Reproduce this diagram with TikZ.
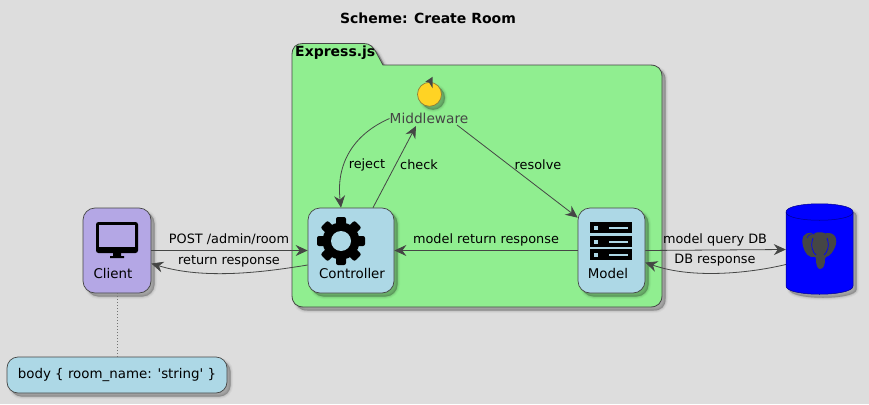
\documentclass[tikz,border=0pt]{standalone}
\usepackage{fontspec}
\setmainfont{DejaVu Sans}
\newfontfamily\plainfont{DejaVu Sans}
\usetikzlibrary{arrows.meta,calc}
\definecolor{bgc}{HTML}{DDDDDD}
\definecolor{linec}{HTML}{454645}
\definecolor{pkgc}{HTML}{90EE90}
\definecolor{lblue}{HTML}{ADD8E6}
\definecolor{purp}{HTML}{B4A7E5}
\definecolor{yelc}{HTML}{FFD324}
\tikzset{
  softshadow/.style={
    preaction={draw=black,fill=black,opacity=.03,line width=5pt,transform canvas={xshift=3.5pt,yshift=-3.5pt}},
    preaction={draw=black,fill=black,opacity=.05,line width=3pt,transform canvas={xshift=3.5pt,yshift=-3.5pt}},
    preaction={draw=black,fill=black,opacity=.07,line width=1.2pt,transform canvas={xshift=3.5pt,yshift=-3.5pt}},
    preaction={fill=black,opacity=.12,transform canvas={xshift=3.5pt,yshift=-3.5pt}}},
  box/.style={rectangle,draw=linec,line width=.7pt,rounded corners=12pt,inner sep=0pt,softshadow},
  txt/.style={inner sep=0pt,font=\plainfont\fontsize{13.4}{15}\selectfont,text=black},
  lbl/.style={inner sep=0pt,font=\fontsize{12.85}{15}\selectfont,text=black},
  flow/.style={draw=linec,line width=.8pt,-{Stealth[length=12pt,width=11pt,inset=4pt]}},
}
\begin{document}
\begin{tikzpicture}[x=1pt,y=-1pt]
\useasboundingbox (0,0) rectangle (869,404);
\fill[bgc] (0,0) rectangle (869,404);
\node[inner sep=0pt,font=\bfseries\fontsize{14}{15}\selectfont] (title) at (428,18) {Scheme: Create Room};
% package
\draw[draw=linec,line width=.8pt,fill=pkgc,softshadow]
  (292,65) -- (292,55) .. controls (292,47) and (296,43.5) .. (303,43.5) -- (364,43.5)
  .. controls (370,43.5) and (373,47) .. (376,52) -- (383,65) -- (650,65)
  .. controls (658,65) and (662,69) .. (662,77) -- (662,295)
  .. controls (662,303) and (658,307) .. (650,307) -- (304,307)
  .. controls (296,307) and (292,303) .. (292,295) -- cycle;
\node[inner sep=0pt,font=\bfseries\fontsize{14}{15}\selectfont,anchor=west] (pkg) at (295,53) {Express.js};
% nodes
\node[box,fill=purp,minimum width=68pt,minimum height=85pt] (client) at (117,250.5) {};
\node[box,fill=lblue,minimum width=86pt,minimum height=85pt] (controller) at (351,250.5) {};
\node[box,fill=lblue,minimum width=67pt,minimum height=85pt] (model) at (611.5,250.5) {};
\node[box,fill=lblue,rounded corners=11pt,minimum width=220pt,minimum height=36pt] (note) at (117,375) {};
\node[txt] at (note.center) (notetext) {body \{ room\_name: 'string' \}};
% labels inside
\node[txt] (clientl) at (113,274) {Client};
\node[txt] (controllerl) at (352,274) {Controller};
\node[txt] (modell) at (608,274) {Model};
% middleware
\node[circle,draw=linec!60!yelc,line width=.7pt,fill=yelc,minimum size=24pt,inner sep=0pt,softshadow] (mwc) at (429.5,94.3) {};
\fill[linec] (432.7,76.7) -- (425.3,81.7) -- (429,82.5) -- (432.7,88.3) -- cycle;
\node[txt,font=\fontsize{13.7}{15}\selectfont,text=linec] (mw) at (429,118.5) {Middleware};
% monitor
\fill[black,rounded corners=2.5pt] (96,222) rectangle (138,253);
\fill[purp] (99,224.5) rectangle (135,247);
\fill[black] (113,253) rectangle (121,256) (110,256) rectangle (124,258);
% gear
\begin{scope}[shift={(341,241)}]
\foreach \a in {0,45,...,315}{
  \fill[black,rounded corners=2pt,rotate=\a] (-5,-24) rectangle (5,-10);
}
\fill[black] (0,0) circle (18.5);
\fill[lblue] (0,0) circle (10);
\end{scope}
% server
\foreach \yy in {222,236,249}{
  \fill[black] (590,\yy) rectangle (632,\yy+11);
  \fill[lblue] (594,\yy+3.5) rectangle (598,\yy+7.5);
  \fill[lblue] (609,\yy+4.5) rectangle (628,\yy+6.5);
}
% database
\node[inner sep=0pt,minimum width=67pt,minimum height=90pt] (db) at (819.5,249.5) {};
\path[fill=blue,draw=blue!55!black,line width=.5pt,softshadow]
  (786,212) .. controls (786,201) and (853,201) .. (853,212) -- (853,286)
  .. controls (853,297) and (786,297) .. (786,286) -- cycle;
\draw[blue!55!black,line width=.5pt] (786,212) .. controls (786,223) and (853,223) .. (853,212);
% elephant
\fill[linec] (812,233) .. controls (803,232) and (801,238) .. (803,246) .. controls (805,254) and (809,258) .. (815,257) -- (816,238) -- cycle;
\fill[linec] (826,233) .. controls (836,232) and (838,240) .. (835,247) .. controls (833,252) and (830,256) .. (826,257) -- (824,238) -- cycle;
\fill[linec] (812,236) .. controls (813,231) and (826,231) .. (828,236) .. controls (830,245) and (827,255) .. (825,259) .. controls (825,264) and (824,269) .. (820,269) .. controls (817,269) and (816,264) .. (816,259) .. controls (813,252) and (811,244) .. (812,236) -- cycle;
\draw[blue,line width=.7pt] (813,238) .. controls (810,246) and (813,253) .. (816,255);
\draw[blue,line width=.7pt] (827,238) .. controls (830,246) and (827,253) .. (824,255);
\draw[blue,line width=.5pt] (815,234) .. controls (811,233) and (808,235) .. (807,238);
% connectors
\path[flow] (client.east) -- (controller.west);
\path[flow] ([yshift=-14.5pt]controller.west) .. controls (265,272) and (205,280) .. ([yshift=-13pt]client.east);
\path[flow] (model.west) -- (controller.east);
\path[flow] (model.east) -- (db.west);
\path[flow] ([yshift=-15pt]db.west) .. controls (755,272) and (695,280) .. ([yshift=-12pt]model.east);
\path[flow] ([xshift=22pt]controller.north) -- ([xshift=-13pt,yshift=-2pt]mw.south);
\path[flow] (mw.west) .. controls (352,135) and (336,165) .. ([xshift=-10pt]controller.north);
\path[flow] ([xshift=28pt,yshift=-1pt]mw.south) -- ([yshift=-10pt]model.north west);
\draw[linec!70!bgc,line width=.8pt,dash pattern=on 1pt off 2pt] (client.south) -- (note.north);
% edge labels
\node[lbl] (l1) at (229,239.5) {POST /admin/room};
\node[lbl] (l2) at (229,261.5) {return response};
\node[lbl] (l3) at (486,239.5) {model return response};
\node[lbl] (l4) at (715,239.5) {model query DB};
\node[lbl] (l5) at (715,260.5) {DB response};
\node[lbl] (l6) at (367,164.5) {reject};
\node[lbl] (l7) at (419,164.5) {check};
\node[lbl] (l8) at (538,164.5) {resolve};
\end{tikzpicture}
\end{document}
